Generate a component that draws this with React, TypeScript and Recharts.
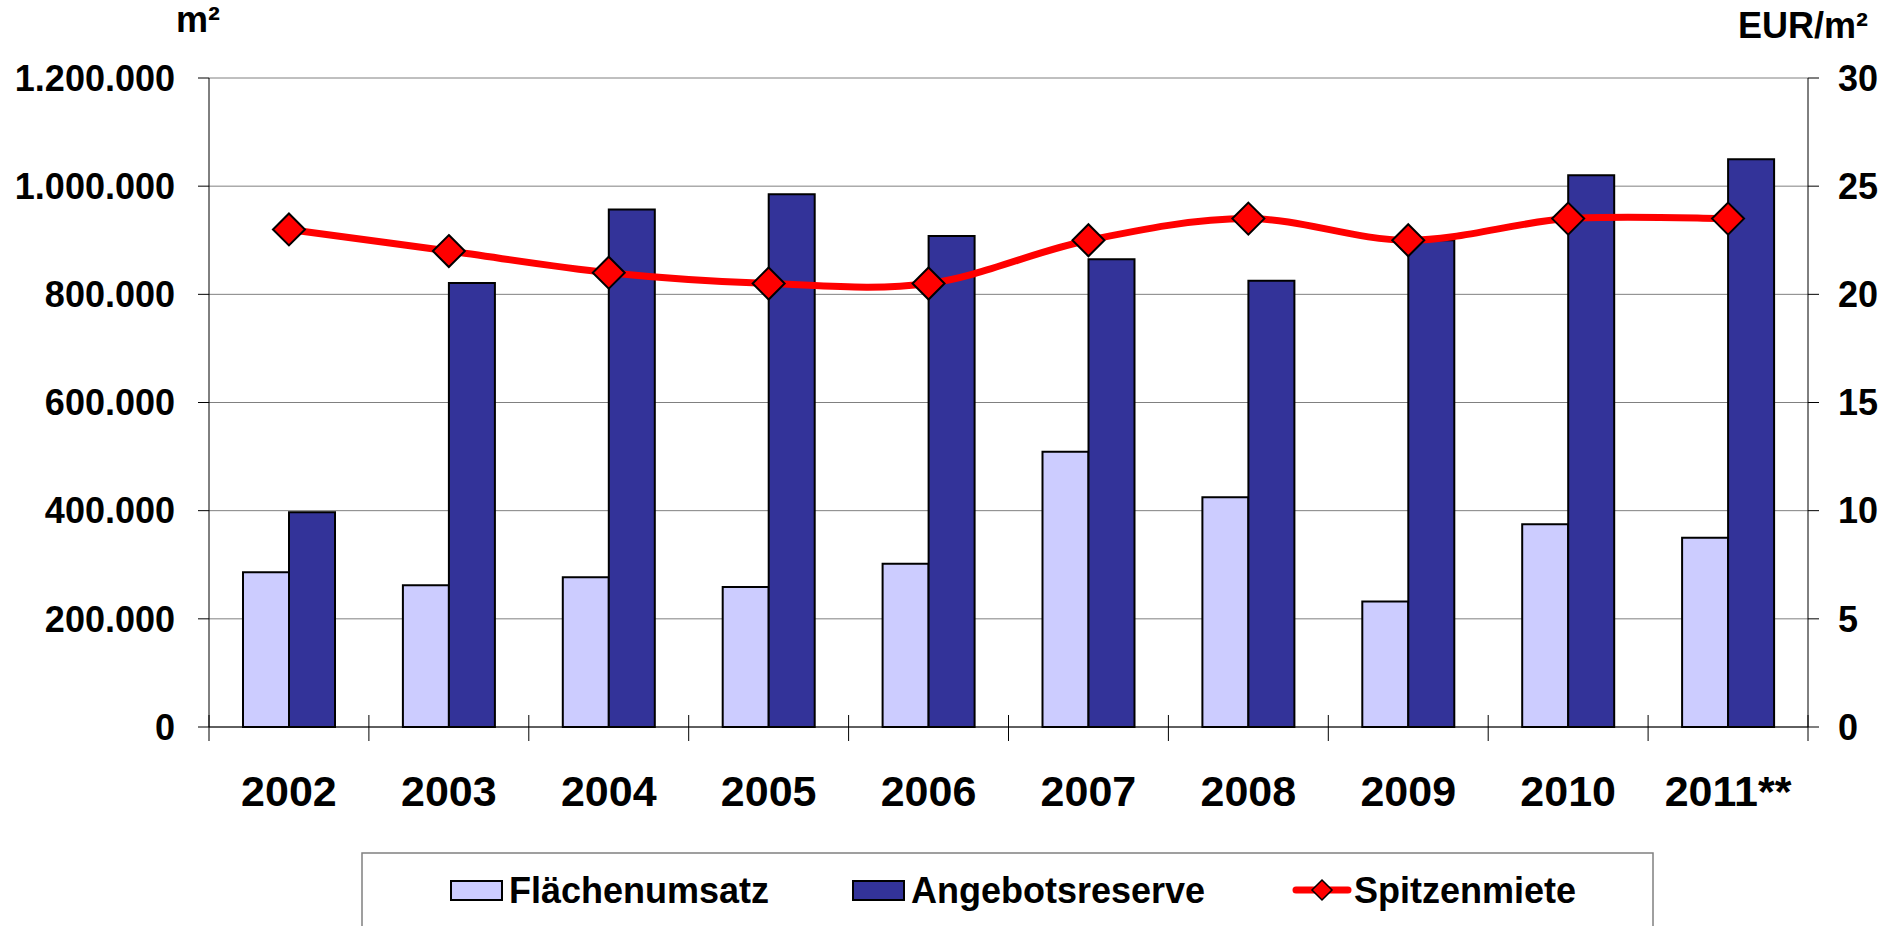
import React from "react";
import { ComposedChart, Bar, Line, XAxis, YAxis, CartesianGrid } from "recharts";

// ─── Data ────────────────────────────────────────────────────────
const years = ["2002", "2003", "2004", "2005", "2006", "2007", "2008", "2009", "2010", "2011**"];
const flaechenumsatz = [286000, 262000, 277000, 259000, 302000, 509000, 425000, 232000, 375000, 350000];
const angebotsreserve = [397000, 821000, 957000, 985000, 908000, 865000, 825000, 900000, 1020000, 1050000];
const spitzenmiete = [23, 22, 21, 20.5, 20.5, 22.5, 23.5, 22.5, 23.5, 23.5];
const leftTicks = [0, 200000, 400000, 600000, 800000, 1000000, 1200000];
const rightTicks = [0, 5, 10, 15, 20, 25, 30];

const data = years.map((year, i) => ({
  year,
  flaeche: flaechenumsatz[i],
  angebot: angebotsreserve[i],
  miete: spitzenmiete[i],
}));

const FONT = "'Liberation Sans', Arial, Helvetica, sans-serif";
const LIGHT = "#CCCCFF";
const DARK = "#333399";
const RED = "#FF0000";

const W = 1890;
const H = 926;
const PLOT_LEFT = 209;
const PLOT_RIGHT = 1808;
const PLOT_TOP = 78;
const PLOT_BOTTOM = 727;
const HALF_BAND = (PLOT_RIGHT - PLOT_LEFT) / years.length / 2;
const MARKER = 16;

const fmtThousands = (v: number) => String(v).replace(/\B(?=(\d{3})+(?!\d))/g, ".");

// Excel-style smoothed line (Catmull-Rom as cubic Bezier)
const excelCurve = (ctx: any) => {
  let pts: number[][] = [];
  return {
    areaStart() {},
    areaEnd() {},
    lineStart() {
      pts = [];
    },
    point(x: number, y: number) {
      pts.push([+x, +y]);
    },
    lineEnd() {
      if (!pts.length) return;
      ctx.moveTo(pts[0][0], pts[0][1]);
      for (let i = 0; i < pts.length - 1; i++) {
        const p0 = pts[i - 1] || pts[i];
        const p1 = pts[i];
        const p2 = pts[i + 1];
        const p3 = pts[i + 2] || p2;
        ctx.bezierCurveTo(
          p1[0] + (p2[0] - p0[0]) / 6,
          p1[1] + (p2[1] - p0[1]) / 6,
          p2[0] - (p3[0] - p1[0]) / 6,
          p2[1] - (p3[1] - p1[1]) / 6,
          p2[0],
          p2[1]
        );
      }
    },
  };
};

const Diamond = ({ cx, cy }: any) => {
  if (cx == null || cy == null) return null;
  const r = MARKER;
  return (
    <polygon
      points={`${cx},${cy - r} ${cx + r},${cy} ${cx},${cy + r} ${cx - r},${cy}`}
      fill={RED}
      stroke="#000"
      strokeWidth={2}
    />
  );
};

const YearTick = ({ x, y, payload, index }: any) => (
  <g>
    <line x1={x - HALF_BAND} y1={y - 12} x2={x - HALF_BAND} y2={y + 14} stroke="#000" strokeWidth={1} />
    {index === years.length - 1 && (
      <line x1={x + HALF_BAND} y1={y - 12} x2={x + HALF_BAND} y2={y + 14} stroke="#000" strokeWidth={1} />
    )}
    <text x={x} y={y + 79} textAnchor="middle" fill="#000" fontSize={43} fontWeight={700} fontFamily={FONT}>
      {payload.value}
    </text>
  </g>
);

const legendText = { fontSize: 36, fontWeight: 700, fontFamily: FONT, fill: "#000" } as const;

export default function App() {
  return (
    <div style={{ position: "absolute", left: 0, top: 0, width: W, height: H, background: "#fff", overflow: "hidden" }}>
      <ComposedChart
        width={W}
        height={H}
        data={data}
        margin={{ top: PLOT_TOP, right: 0, bottom: 0, left: 0 }}
        barSize={46}
        barGap={0}
      >
        <CartesianGrid yAxisId="left" vertical={false} stroke="#808080" strokeWidth={1} />
        <XAxis
          dataKey="year"
          height={H - PLOT_BOTTOM}
          tickSize={0}
          tickMargin={0}
          tick={<YearTick />}
          interval={0}
          axisLine={{ stroke: "#000", strokeWidth: 1 }}
        />
        <YAxis
          yAxisId="left"
          width={PLOT_LEFT}
          domain={[0, 1200000]}
          ticks={leftTicks}
          interval={0}
          tickFormatter={fmtThousands}
          tickSize={11}
          tickMargin={23}
          axisLine={{ stroke: "#000" }}
          tickLine={{ stroke: "#000" }}
          tick={{ fontSize: 36, fontWeight: 700, fontFamily: FONT, fill: "#000" }}
        />
        <YAxis
          yAxisId="right"
          orientation="right"
          width={W - PLOT_RIGHT}
          domain={[0, 30]}
          ticks={rightTicks}
          interval={0}
          tickSize={11}
          tickMargin={19}
          axisLine={{ stroke: "#000" }}
          tickLine={{ stroke: "#000" }}
          tick={{ fontSize: 36, fontWeight: 700, fontFamily: FONT, fill: "#000", textAnchor: "start" }}
        />
        <Bar yAxisId="left" dataKey="flaeche" fill={LIGHT} stroke="#000" strokeWidth={2} isAnimationActive={false} />
        <Bar yAxisId="left" dataKey="angebot" fill={DARK} stroke="#000" strokeWidth={2} isAnimationActive={false} />
        <Line
          yAxisId="right"
          dataKey="miete"
          type={excelCurve as any}
          stroke={RED}
          strokeWidth={7}
          dot={(props: any) => <Diamond key={props.index} cx={props.cx} cy={props.cy} />}
          activeDot={false}
          isAnimationActive={false}
        />
      </ComposedChart>

      {/* axis units and legend */}
      <svg width={W} height={H} style={{ position: "absolute", left: 0, top: 0, pointerEvents: "none" }}>
        <text x={198} y={32} textAnchor="middle" {...legendText}>m²</text>
        <text x={1868} y={38} textAnchor="end" {...legendText}>EUR/m²</text>

        <rect x={362} y={853} width={1291} height={100} fill="none" stroke="#808080" strokeWidth={1.5} />

        <rect x={451} y={881} width={51} height={19} fill={LIGHT} stroke="#000" strokeWidth={2} />
        <text x={509} y={903} {...legendText}>Flächenumsatz</text>

        <rect x={853} y={881} width={51} height={19} fill={DARK} stroke="#000" strokeWidth={2} />
        <text x={911} y={903} {...legendText}>Angebotsreserve</text>

        <line x1={1296} y1={890} x2={1348} y2={890} stroke={RED} strokeWidth={7} strokeLinecap="round" />
        <polygon points="1322,880 1332,890 1322,900 1312,890" fill={RED} stroke="#000" strokeWidth={1.5} />
        <text x={1354} y={903} {...legendText}>Spitzenmiete</text>
      </svg>
    </div>
  );
}
